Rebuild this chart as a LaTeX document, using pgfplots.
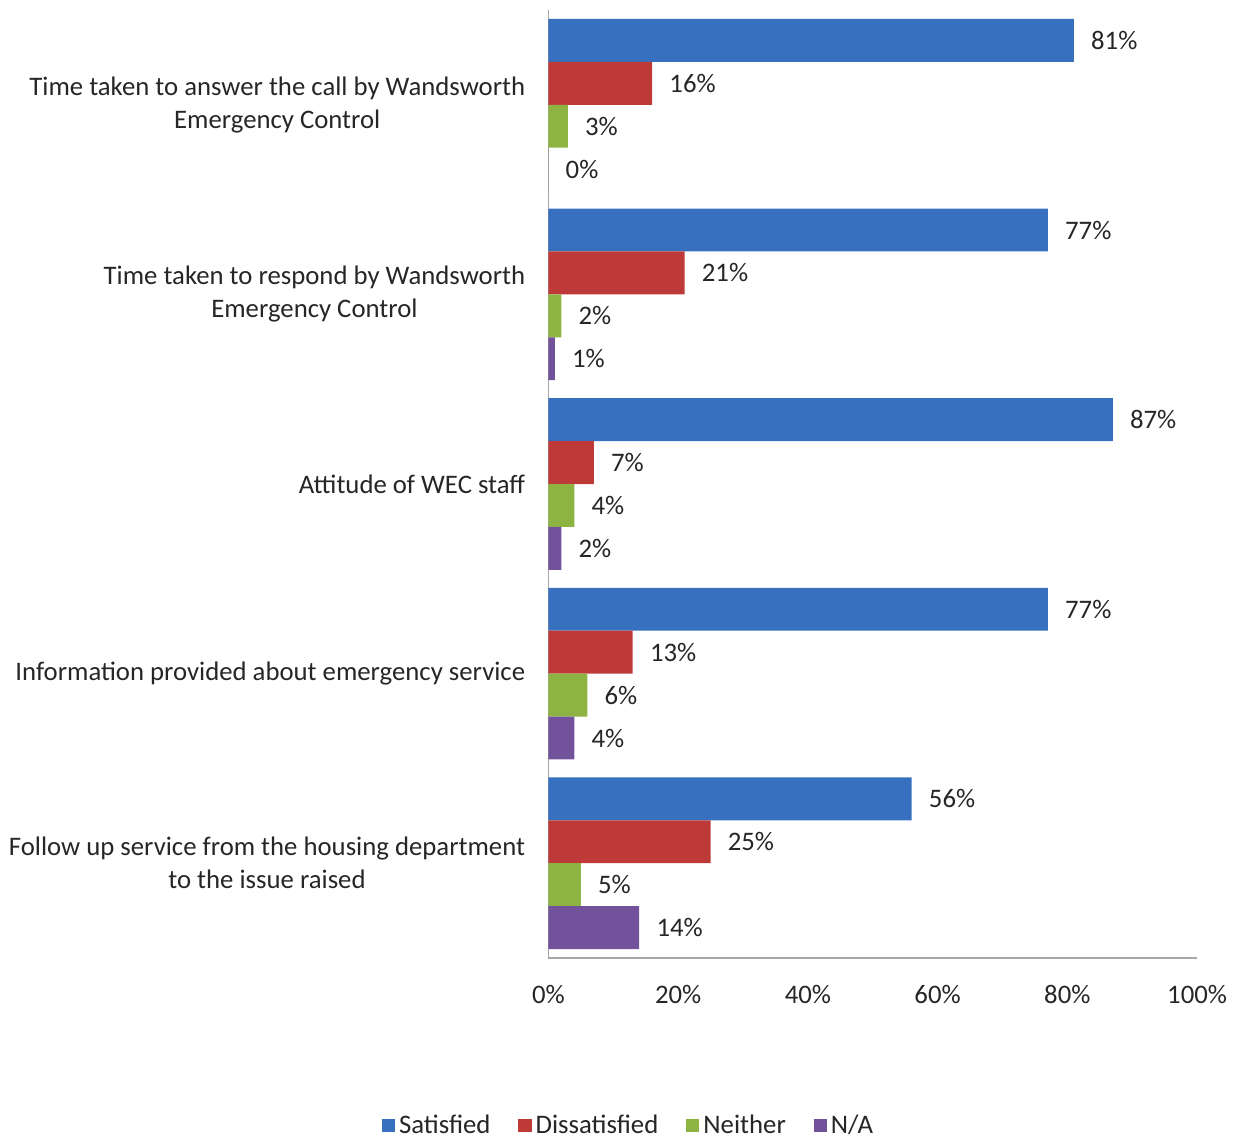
\documentclass[border=0pt]{standalone}
\usepackage{pgfplots}
\pgfplotsset{compat=1.18}
\usepackage{fontspec}
\setmainfont{Carlito}
\definecolor{cblue}{HTML}{3670BF}
\definecolor{cred}{HTML}{BE3A38}
\definecolor{cgreen}{HTML}{8DB443}
\definecolor{cpurp}{HTML}{73529C}
\definecolor{axgray}{HTML}{A6A6A6}
\definecolor{txt}{HTML}{262626}
\begin{document}
\fontsize{13.4}{16.5}\selectfont
\begin{tikzpicture}
\begin{axis}[
  scale only axis,
  width=325pt, height=475pt,
  xbar, bar width=21.5pt,
  xmin=0, xmax=100,
  ymin=-0.5, ymax=4.5,
  y dir=reverse,
  clip=false,
  axis x line*=bottom, axis y line*=left,
  axis line style={axgray, line width=0.6pt, -},
  major tick length=0pt,
  /pgf/number format/assume math mode=true,
  xtick={0,20,40,60,80,100},
  xticklabels={0\%,20\%,40\%,60\%,80\%,100\%},
  xticklabel style={yshift=-9pt, text=txt, font=\fontsize{13.4}{15}\selectfont},
  ytick={0,1,2,3,4},
  yticklabels={{Time taken to answer the call by Wandsworth\\Emergency Control},
               {Time taken to respond by Wandsworth\\Emergency Control},
               {Attitude of WEC staff},
               {Information provided about emergency service},
               {Follow up service from the housing department\\to the issue raised}},
  yticklabel style={align=center, xshift=-7pt, text=txt, font=\fontsize{13.4}{16.5}\selectfont},
  nodes near coords={\pgfmathprintnumber{\pgfplotspointmeta}\%},
  every node near coord/.append style={anchor=west, xshift=4pt, text=txt, font=\fontsize{13.4}{15}\selectfont},
  point meta=x,
  legend style={draw=none, at={(0.125,-0.177)}, anchor=center, legend columns=-1,
     font=\fontsize{13.4}{15}\selectfont, text=txt,
     /tikz/every even column/.append style={column sep=12pt}},
  legend image code/.code={\fill[#1] (0pt,-3.3pt) rectangle (6.6pt,3.3pt);},
]
\addplot[draw=none, fill=cblue, bar shift=32.25pt]
  coordinates {(81,0) (77,1) (87,2) (77,3) (56,4)};
\addplot[draw=none, fill=cred, bar shift=10.75pt]
  coordinates {(16,0) (21,1) (7,2) (13,3) (25,4)};
\addplot[draw=none, fill=cgreen, bar shift=-10.75pt]
  coordinates {(3,0) (2,1) (4,2) (6,3) (5,4)};
\addplot[draw=none, fill=cpurp, bar shift=-32.25pt]
  coordinates {(0,0) (1,1) (2,2) (4,3) (14,4)};
\legend{Satisfied, Dissatisfied, Neither, N/A}
\path (axis cs:-84.15,-0.5526) rectangle (axis cs:106.77,5.447);
\end{axis}
\end{tikzpicture}
\end{document}
